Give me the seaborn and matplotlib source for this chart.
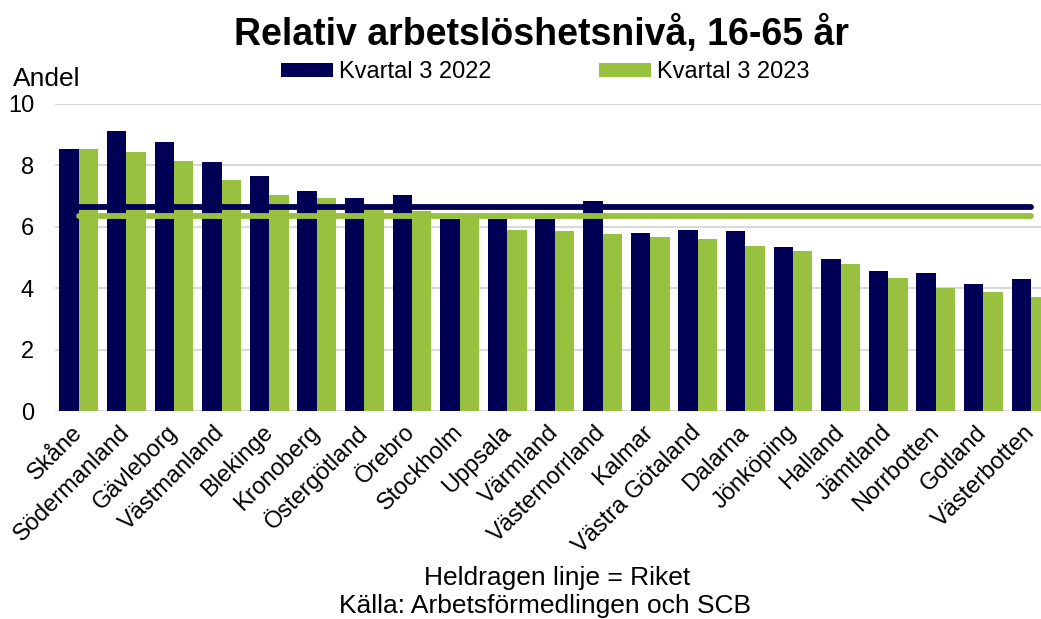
import matplotlib
matplotlib.use("Agg")
import matplotlib.pyplot as plt
import seaborn as sns
import pandas as pd

regions = ["Skåne", "Södermanland", "Gävleborg", "Västmanland", "Blekinge", "Kronoberg",
           "Östergötland", "Örebro", "Stockholm", "Uppsala", "Värmland", "Västernorrland",
           "Kalmar", "Västra Götaland", "Dalarna", "Jönköping", "Halland", "Jämtland",
           "Norrbotten", "Gotland", "Västerbotten"]
q3_2022 = [8.52, 9.12, 8.75, 8.11, 7.64, 7.15, 6.95, 7.02, 6.27, 6.27, 6.27, 6.85,
           5.80, 5.91, 5.85, 5.33, 4.94, 4.55, 4.51, 4.14, 4.29]
q3_2023 = [8.52, 8.43, 8.14, 7.52, 7.05, 6.95, 6.55, 6.52, 6.38, 5.91, 5.86, 5.78,
           5.66, 5.59, 5.39, 5.21, 4.78, 4.33, 4.02, 3.89, 3.70]
series = ["Kvartal 3 2022", "Kvartal 3 2023"]
riket = [6.65, 6.36]

navy = "#000055"
green = "#99C140"

sns.set_theme(style="white", rc={"text.color": "black", "xtick.color": "black",
                                  "ytick.color": "black", "axes.labelcolor": "black"})
plt.rcParams["font.family"] = ["Liberation Sans", "DejaVu Sans"]

df = pd.DataFrame({
    "Region": regions * 2,
    "Serie": [series[0]] * len(regions) + [series[1]] * len(regions),
    "Andel": q3_2022 + q3_2023,
})

W, H = 1041, 619
fig = plt.figure(figsize=(W / 100, H / 100), dpi=100)
n = len(regions)
ax = fig.add_axes([54.9 / W, 1 - 411 / H, 1000 / W, 307 / H])

sns.barplot(data=df, x="Region", y="Andel", hue="Serie", order=regions, hue_order=series,
            palette=[navy, green], width=0.815, saturation=1, ax=ax, legend=True,
            edgecolor="none", zorder=2)

for val, col in zip(riket, [navy, green]):
    ax.plot([0, n - 1], [val, val], color=col, lw=4.2, solid_capstyle="round", zorder=4)

ax.set_xlim(-0.5, n - 0.5)
ax.set_ylim(0, 10)
ax.set_yticks([0, 2, 4, 6, 8, 10])
ax.yaxis.grid(True, color="#D9D9D9", lw=1.5, zorder=0)
ax.set_axisbelow(True)
for s in ax.spines.values():
    s.set_visible(False)
ax.set_xlabel("")
ax.set_ylabel("")
ax.tick_params(axis="y", length=0, pad=15, labelsize=17, labelcolor="black")
ax.tick_params(axis="x", length=0, pad=13, labelsize=17, labelcolor="black")
for lab in ax.get_xticklabels():
    lab.set_rotation(45)
    lab.set_ha("right")
    lab.set_va("center")
    lab.set_rotation_mode("anchor")

leg = ax.get_legend()
handles = leg.legend_handles
leg.remove()
fig.legend(handles, series, loc="center left", bbox_to_anchor=(281 / W, 1 - 72.5 / H),
           ncol=2, frameon=False, fontsize=17, handlelength=2.2, handleheight=0.55,
           handletextpad=0.25, columnspacing=4.55, borderpad=0, borderaxespad=0)

fig.text(542 / W, 1 - 45 / H, "Relativ arbetslöshetsnivå, 16-65 år", ha="center",
         va="baseline", fontsize=27, fontweight="bold")
fig.text(13 / W, 1 - 86 / H, "Andel", ha="left", va="baseline", fontsize=19)
fig.text(557 / W, 1 - 585 / H, "Heldragen linje = Riket", ha="center", va="baseline",
         fontsize=19)
fig.text(545 / W, 1 - 613 / H, "Källa: Arbetsförmedlingen och SCB", ha="center",
         va="baseline", fontsize=19)

fig.savefig("out.png", dpi=100)
